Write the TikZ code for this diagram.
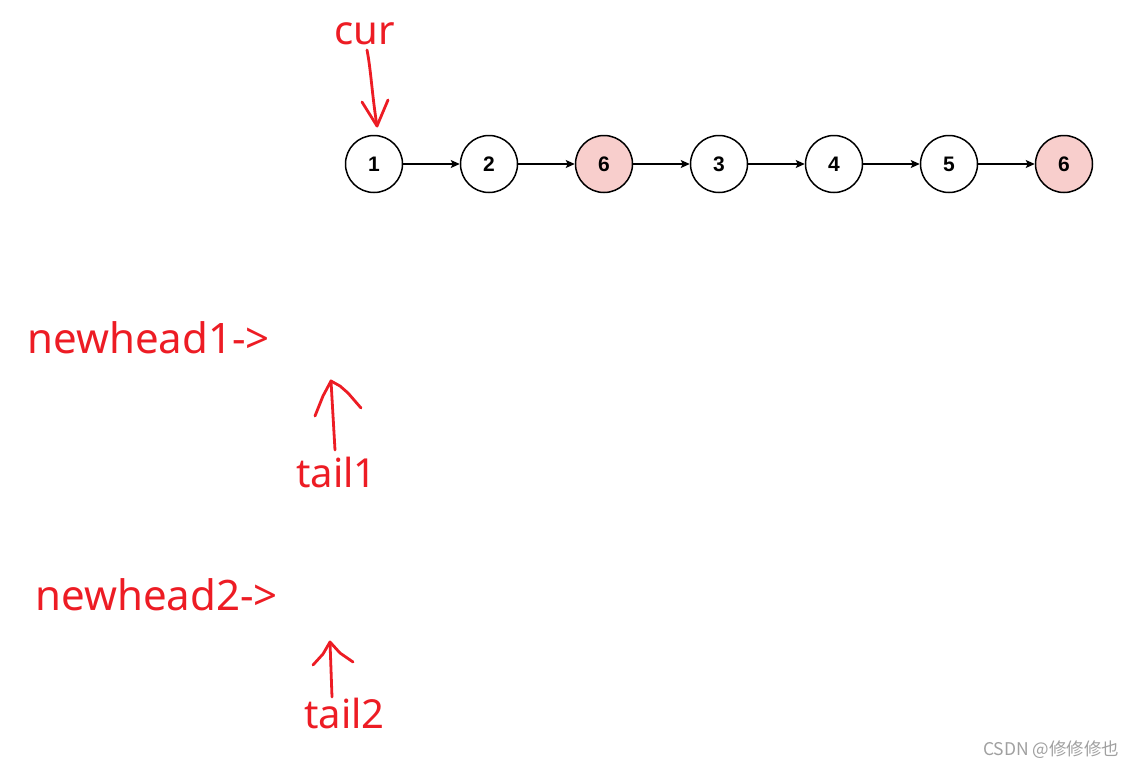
\documentclass[tikz,border=0pt]{standalone}
\usepackage{fontspec}
\setmainfont{Noto Sans}
\newfontfamily\numfont{Liberation Sans}
\newfontfamily\cjkfont{Noto Sans CJK SC}
\usetikzlibrary{arrows.meta}
\definecolor{pen}{RGB}{237,28,36}
\definecolor{pinkfill}{RGB}{248,206,204}
\definecolor{wm}{RGB}{160,160,160}
\tikzset{
  lnode/.style={circle,draw=black,line width=1.5pt,minimum size=57pt,inner sep=0pt,fill=white,font=\numfont\bfseries\fontsize{21}{21}\selectfont},
  hot/.style={fill=pinkfill},
  link/.style={-{Stealth[length=9pt,width=8pt,inset=2pt]},line width=1.3pt,black},
  redtext/.style={anchor=base west,inner sep=0pt,text=pen},
  pencil/.style={draw=pen,line width=2.8pt,line cap=round,line join=round}
}
\begin{document}
\begin{tikzpicture}[x=1pt,y=-1pt]
\useasboundingbox[fill=white] (0,0) rectangle (1136,766);
% list nodes
\node[lnode] (n1) at (374,164) {1};
\node[lnode] (n2) at (489,164) {2};
\node[lnode,hot] (n3) at (604,164) {6};
\node[lnode] (n4) at (719,164) {3};
\node[lnode] (n5) at (834,164) {4};
\node[lnode] (n6) at (949,164) {5};
\node[lnode,hot] (n7) at (1064,164) {6};
\foreach \a/\b in {n1/n2,n2/n3,n3/n4,n4/n5,n5/n6,n6/n7}
  \draw[link] (\a) -- (\b);
% labels
\node[redtext,font=\fontsize{40}{40}\selectfont] (cur) at (334,44) {cur};
\node[redtext,font=\fontsize{42}{42}\selectfont] (nh1) at (27,353) {newhead1->};
\node[redtext,font=\fontsize{40}{40}\selectfont] (t1) at (296,487) {tail1};
\node[redtext,font=\fontsize{42}{42}\selectfont] (nh2) at (35,610) {newhead2->};
\node[redtext,font=\fontsize{40}{40}\selectfont] (t2) at (304,728) {tail2};
% hand-drawn arrows
\coordinate (curtip) at (377,126);
\draw[pencil] (367,50) .. controls (371,70) and (372,95) .. (curtip);
\draw[pencil] (362,102) -- (curtip) -- (388,100);
\coordinate (t1tip) at (331,381);
\draw[pencil] (335,450) -- (t1tip);
\draw[pencil] (315,416) -- (323,396) -- (t1tip) -- (340,386) -- (348,393) -- (361,408);
\coordinate (t2tip) at (330,642);
\draw[pencil] (332,697) -- (t2tip);
\draw[pencil] (313,665) -- (323,654) -- (t2tip) -- (340,653) -- (353,662);
% watermark
\node[anchor=base west,inner sep=0pt,text=wm,font=\cjkfont\fontsize{17.5}{17.5}\selectfont] (wmark) at (983,755) {CSDN @修修修也};
\end{tikzpicture}
\end{document}
